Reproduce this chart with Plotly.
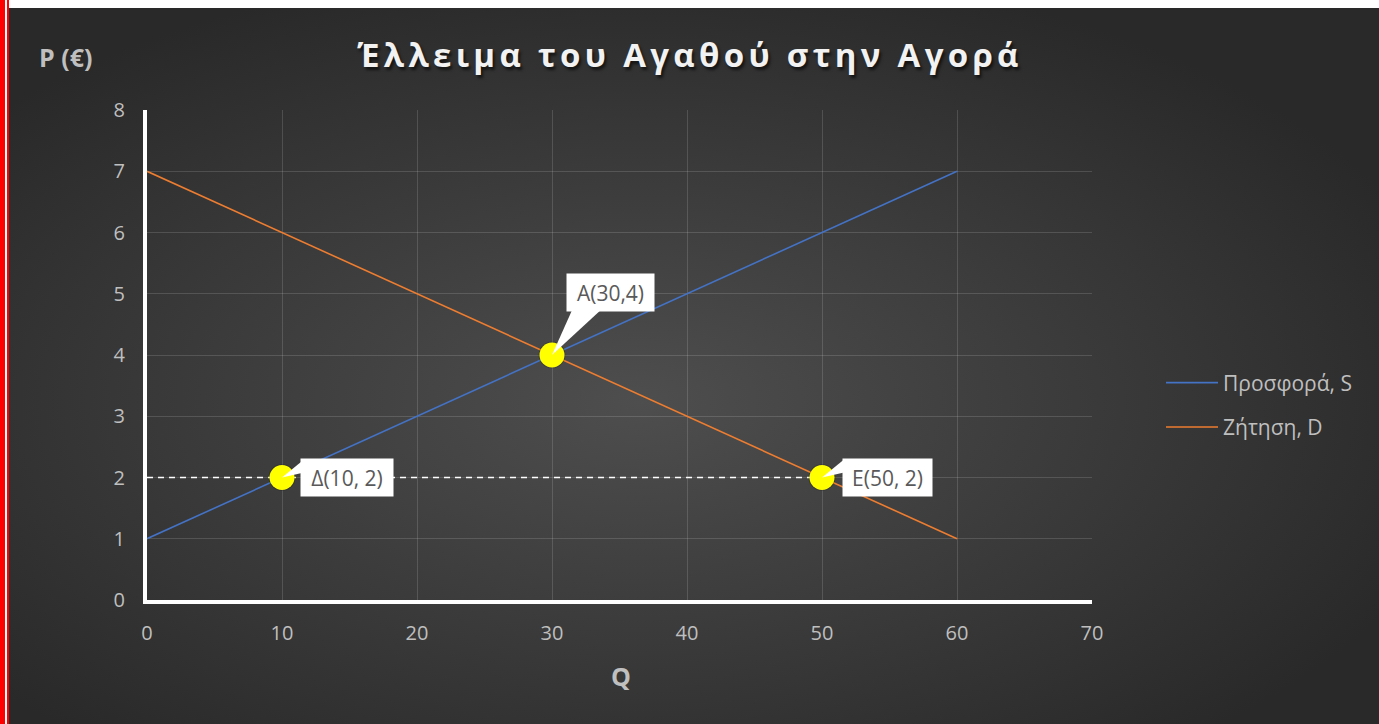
import base64
import plotly.graph_objects as go

# ---- data ----
quantity = [0, 10, 20, 30, 40, 50, 60]
supply_price = [1, 2, 3, 4, 5, 6, 7]
demand_price = [7, 6, 5, 4, 3, 2, 1]
shortage_q = [0, 50]
shortage_p = [2, 2]
point_q = [30, 10, 50]
point_p = [4, 2, 2]
point_labels = ["A(30,4)", "Δ(10, 2)", "Ε(50, 2)"]
series_names = ["Προσφορά, S", "Ζήτηση, D"]
title_text = "Έλλειμα του Αγαθού στην Αγορά"
x_ticks = [0, 10, 20, 30, 40, 50, 60, 70]
y_ticks = [0, 1, 2, 3, 4, 5, 6, 7, 8]

W, H = 1379, 724
L, R, T, B = 147, 1379 - 1092, 110, 724 - 600
PW, PH = W - L - R, H - T - B

FONT = "Open Sans"
LABEL_GRAY = "#bfbfbf"

svg = f'''<svg xmlns="http://www.w3.org/2000/svg" width="{W}" height="{H}" viewBox="0 0 {W} {H}">
<defs><radialGradient id="g" cx="46%" cy="55%" r="62%">
<stop offset="0" stop-color="#4e4e4e"/><stop offset="1" stop-color="#292929"/></radialGradient></defs>
<rect x="0" y="0" width="{W}" height="{H}" fill="#ffffff"/>
<rect x="9" y="8" width="{W-9}" height="{H-8}" fill="url(#g)"/>
<rect x="0" y="0" width="5" height="{H}" fill="#ff0000"/>
<rect x="7" y="0" width="2" height="{H}" fill="#ff0000"/>
</svg>'''
bg_uri = "data:image/svg+xml;base64," + base64.b64encode(svg.encode()).decode()


def px_x(ref_x):
    return (ref_x - L) / PW


def px_y(ref_y):
    return (H - B - ref_y) / PH


fig = go.Figure()

fig.add_trace(go.Scatter(x=quantity, y=supply_price, mode="lines", name=series_names[0],
                         line=dict(color="#4472c4", width=1.6), legendgroup="s"))
fig.add_trace(go.Scatter(x=quantity, y=demand_price, mode="lines", name=series_names[1],
                         line=dict(color="#ed7d31", width=1.6), legendgroup="d"))
fig.add_trace(go.Scatter(x=shortage_q, y=shortage_p, mode="lines", showlegend=False,
                         line=dict(color="#ffffff", width=1.5, dash="6px,5px"), hoverinfo="skip"))
fig.add_trace(go.Scatter(x=point_q, y=point_p, mode="markers", showlegend=False, hoverinfo="skip",
                         marker=dict(size=27, color="rgba(0,0,0,0.15)", line=dict(width=0))))
fig.add_trace(go.Scatter(x=point_q, y=point_p, mode="markers", showlegend=False,
                         marker=dict(size=25, color="#ffff00", line=dict(width=0))))

box_offsets = [(58, 63), (65, 0), (65, 0)]
box_widths = [81, 86, 83]
wedges = [
    "M 0 0 L 21 47 L 51 47 Z",
    "M 0 0 L 22 18 L 22 5 Z",
    "M 0 0 L 22 18 L 22 5 Z",
]
for q, p, lab, (dx, dy), bw, wpath in zip(point_q, point_p, point_labels, box_offsets, box_widths, wedges):
    fig.add_shape(type="path", xref="x", yref="y", xsizemode="pixel", ysizemode="pixel",
                  xanchor=q, yanchor=p, path=wpath, fillcolor="#ffffff",
                  line=dict(width=0), layer="above")
    fig.add_annotation(x=q, y=p, xref="x", yref="y", text=lab, showarrow=False,
                       xshift=dx, yshift=dy, bgcolor="#ffffff", borderpad=3,
                       width=bw, height=31,
                       font=dict(family=FONT, size=21, color="#595959"))

fig.add_annotation(xref="paper", yref="paper", x=px_x(37), y=px_y(57),
                   xanchor="left", yanchor="middle", text="<b>P (€)</b>", showarrow=False,
                   font=dict(family=FONT, size=25, color=LABEL_GRAY))
fig.add_annotation(xref="paper", yref="paper", x=px_x(621), y=px_y(676),
                   xanchor="center", yanchor="middle", text="<b>Q</b>", showarrow=False,
                   font=dict(family=FONT, size=25, color=LABEL_GRAY))

fig.update_layout(
    width=W, height=H,
    margin=dict(l=L, r=R, t=T, b=B),
    paper_bgcolor="#2b2b2b",
    plot_bgcolor="rgba(0,0,0,0)",
    images=[dict(source=bg_uri, xref="paper", yref="paper", x=-L / PW, y=1 + T / PH,
                 sizex=W / PW, sizey=H / PH, xanchor="left", yanchor="top",
                 sizing="stretch", layer="below")],
    title=dict(text=f'<b><span style="letter-spacing:4.3px">{title_text}</span></b>',
               x=690 / W, xanchor="center", y=1 - 55 / H, yanchor="middle",
               font=dict(family=FONT, size=33, color="#f2f2f2",
                         shadow="2px 3px 3px rgba(0,0,0,0.6)")),
    legend=dict(x=px_x(1161), y=px_y(405), xanchor="left", yanchor="middle",
                font=dict(family=FONT, size=21, color=LABEL_GRAY),
                bgcolor="rgba(0,0,0,0)", itemwidth=52, tracegroupgap=14),
    xaxis=dict(range=[0, 70], tickvals=x_ticks, showgrid=True,
               gridcolor="rgba(255,255,255,0.14)", gridwidth=1,
               showline=True, linecolor="#ffffff", linewidth=4, zeroline=False,
               ticks="", ticklabelstandoff=12,
               tickfont=dict(family=FONT, size=20, color=LABEL_GRAY), fixedrange=True),
    yaxis=dict(range=[0, 8], tickvals=y_ticks, showgrid=True,
               gridcolor="rgba(255,255,255,0.14)", gridwidth=1,
               showline=True, linecolor="#ffffff", linewidth=4, zeroline=False,
               ticks="", ticklabelstandoff=14,
               tickfont=dict(family=FONT, size=20, color=LABEL_GRAY), fixedrange=True),
    showlegend=True,
)

fig.write_html(
    "out.html",
    config={"displayModeBar": False},
    post_script="document.body.style.margin='0';document.body.style.overflow='hidden';",
)
